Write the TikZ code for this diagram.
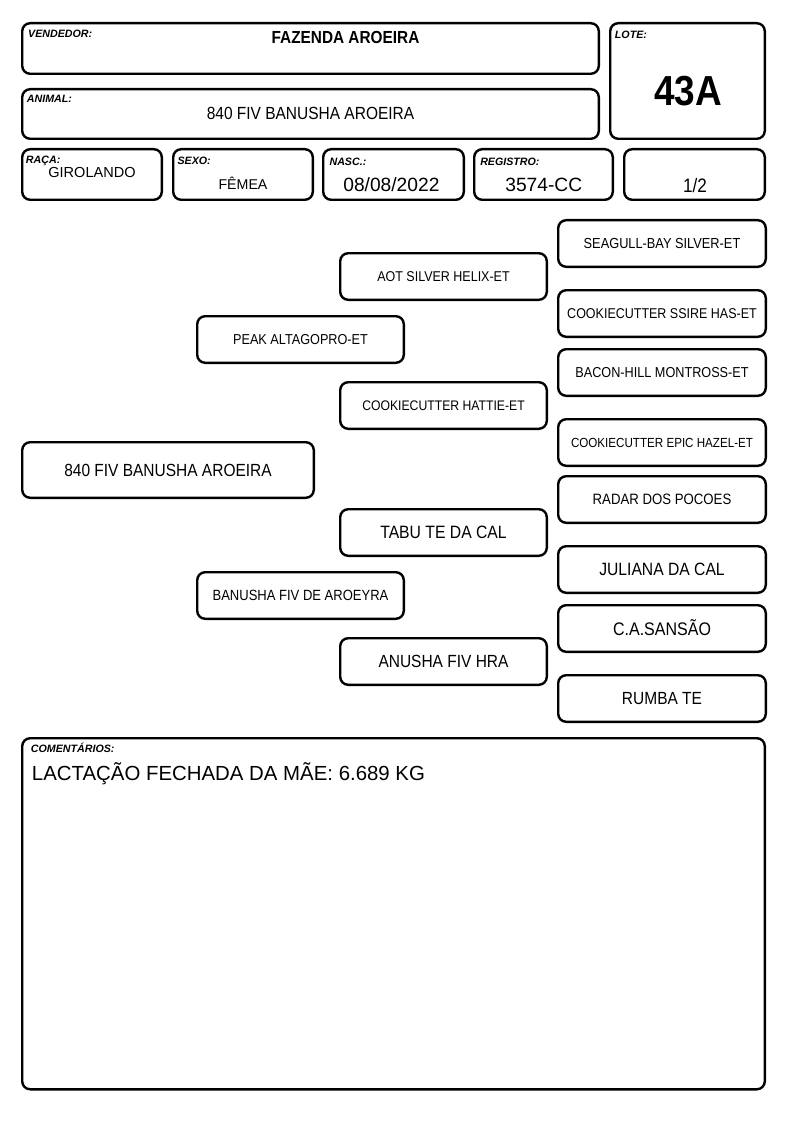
\documentclass[tikz,border=0pt]{standalone}
\usepackage{fontspec}
\setmainfont{Liberation Sans}
\newfontfamily\nf{Liberation Sans}[FakeStretch=0.88]
\begin{document}
\begin{tikzpicture}[x=0.75pt,y=-0.75pt,
  cell/.style={draw, line width=1.8pt, rounded corners=6pt, inner sep=0pt, fill=white},
  wh/.style n args={2}{minimum width=#1*0.75pt, minimum height=#2*0.75pt},
  nm/.style={font=\nf\fontsize{#1pt}{#1pt}\selectfont, text height=0.716*#1pt, text depth=0pt},
  lab/.style={font=\bfseries\itshape\fontsize{8pt}{8pt}\selectfont, anchor=base west, inner sep=0pt},
  val/.style={anchor=base, inner sep=0pt}]
\useasboundingbox[fill=white] (0,0) rectangle (794,1123);

% header boxes
\node[cell, wh={576.6}{50.6}] (vend) at (310.5,48.5) {};
\node[cell, wh={576.6}{49.6}] (anim) at (310.5,114) {};
\node[cell, wh={154.6}{115.6}] (lote) at (687.5,81) {};
\node[cell, wh={139.6}{50.6}] (raca) at (92,174.5) {};
\node[cell, wh={139.6}{50.6}] (sexo) at (243,174.5) {};
\node[cell, wh={140.6}{50.6}] (nasc) at (393.5,174.5) {};
\node[cell, wh={138.6}{50.6}] (reg) at (543.5,174.5) {};
\node[cell, wh={140.6}{50.6}] (frac) at (694.5,174.5) {};

% labels
\node[lab] (lvend) at (27.9,37.7) {VENDEDOR:};
\node[lab] (lanim) at (26.7,102.3) {ANIMAL:};
\node[lab] (llote) at (614.7,38.3) {LOTE:};
\node[lab] (lraca) at (25.7,163.3) {RAÇA:};
\node[lab] (lsexo) at (177.3,164.3) {SEXO:};
\node[lab] (lnasc) at (329.3,165.7) {NASC.:};
\node[lab] (lreg) at (480,165.7) {REGISTRO:};

% header values
\node[val, font=\nf\bfseries\fontsize{13.1pt}{13.1pt}\selectfont] (tvend) at (345.5,43.3) {FAZENDA AROEIRA};
\node[val, font=\nf\fontsize{13.2pt}{13.2pt}\selectfont] (tanim) at (310.5,119.3) {840 FIV BANUSHA AROEIRA};
\node[val, font=\nf\bfseries\fontsize{31.5pt}{31.5pt}\selectfont] (tlote) at (688,105.7) {43A};
\node[val, font=\fontsize{10.9pt}{10.9pt}\selectfont] (traca) at (92,177.7) {GIROLANDO};
\node[val, font=\fontsize{10.65pt}{10.65pt}\selectfont] (tsexo) at (243,189.3) {FÊMEA};
\node[val, font=\fontsize{14.4pt}{14.4pt}\selectfont] (tnasc) at (391.4,191.7) {08/08/2022};
\node[val, font=\fontsize{14.4pt}{14.4pt}\selectfont] (treg) at (543.8,191.7) {3574-CC};
\node[val, font=\nf\fontsize{14.6pt}{14.6pt}\selectfont] (tfrac) at (695,192.7) {1/2};

% pedigree
\node[cell, wh={291.6}{55.6}, nm=13.2] (p0) at (168,470) {840 FIV BANUSHA AROEIRA};
\node[cell, wh={206.6}{46.6}, nm=10.8] (p1) at (300.5,339.5) {PEAK ALTAGOPRO-ET};
\node[cell, wh={206.6}{46.6}, nm=11.1] (p2) at (300.5,595.5) {BANUSHA FIV DE AROEYRA};
\node[cell, wh={206.6}{46.6}, nm=10.65] (p3) at (443.5,276.5) {AOT SILVER HELIX-ET};
\node[cell, wh={206.6}{46.6}, nm=10.4] (p4) at (443.5,405.5) {COOKIECUTTER HATTIE-ET};
\node[cell, wh={206.6}{46.6}, nm=13.4] (p5) at (443.5,532.5) {TABU TE DA CAL};
\node[cell, wh={206.6}{46.6}, nm=13.2] (p6) at (443.5,661.5) {ANUSHA FIV HRA};
\node[cell, wh={207.6}{46.6}, nm=10.9] (p7) at (662,243.5) {SEAGULL-BAY SILVER-ET};
\node[cell, wh={207.6}{46.6}, nm=10.65] (p8) at (662,313.5) {COOKIECUTTER SSIRE HAS-ET};
\node[cell, wh={207.6}{46.6}, nm=10.8] (p9) at (662,372.5) {BACON-HILL MONTROSS-ET};
\node[cell, wh={207.6}{46.6}, nm=9.9] (p10) at (662,442.5) {COOKIECUTTER EPIC HAZEL-ET};
\node[cell, wh={207.6}{46.6}, nm=11.25] (p11) at (662,499.5) {RADAR DOS POCOES};
\node[cell, wh={207.6}{46.6}, nm=13.35] (p12) at (662,569.5) {JULIANA DA CAL};
\node[cell, wh={207.6}{46.6}, nm=13.65] (p13) at (662,628.5) {C.A.SANSÃO};
\node[cell, wh={207.6}{46.6}, nm=13.2] (p14) at (662,698.5) {RUMBA TE};

% comments
\node[cell, wh={742.6}{351.1}] (com) at (393.5,913.75) {};
\node[lab] (lcom) at (30.7,752.3) {COMENTÁRIOS:};
\node[anchor=base west, inner sep=0pt, font=\fontsize{15.3pt}{15.3pt}\selectfont] (tcom) at (31.7,780.7) {LACTAÇÃO FECHADA DA MÃE: 6.689 KG};
\end{tikzpicture}
\end{document}
